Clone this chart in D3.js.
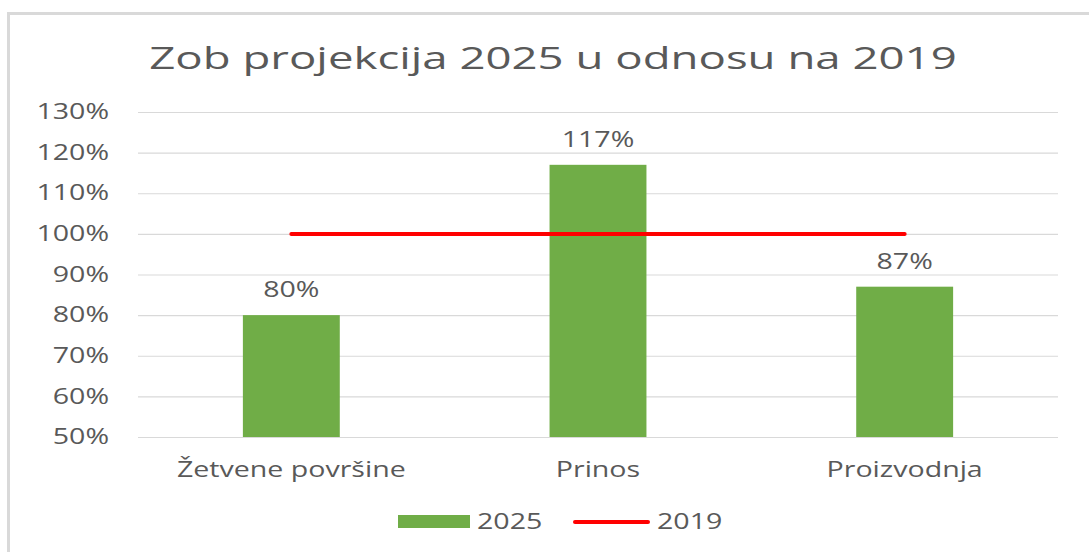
<!DOCTYPE html>
<html>
<head>
<meta charset="utf-8">
<script src="https://cdn.jsdelivr.net/npm/d3@7"></script>
<style>
  body { margin: 0; background: #fff; }
  text { font-family: "Open Sans", sans-serif; fill: #595959; }
</style>
</head>
<body>
<div id="chart"></div>
<script>
// podaci
const categories = ["Žetvene površine", "Prinos", "Proizvodnja"];
const values2025 = [0.80, 1.17, 0.87];
const values2019 = [1.00, 1.00, 1.00];
const yTicks = [0.5, 0.6, 0.7, 0.8, 0.9, 1.0, 1.1, 1.2, 1.3];
const title = "Zob projekcija 2025 u odnosu na 2019";

const width = 1089;
const height = 552;
const stretchK = 1.36; // slika je horizontalno razvučena

const green = "#70ad47";
const red = "#ff0000";

const svg = d3.select("#chart").append("svg")
  .attr("width", width).attr("height", height);

// okvir (samo gore i lijevo je vidljivo)
svg.append("path")
  .attr("d", `M8.5,${height} V13.5 H${width}`)
  .attr("fill", "none").attr("stroke", "#d9d9d9").attr("stroke-width", 3);

function stretch(sel, k = stretchK) {
  sel.each(function() {
    const w = this.getComputedTextLength();
    d3.select(this).attr("textLength", w * k).attr("lengthAdjust", "spacingAndGlyphs");
  });
}

const x = d3.scaleBand().domain(categories).range([138, 1058]);
const y = d3.scaleLinear().domain([0.5, 1.3]).range([437, 112]);
const barW = x.bandwidth() * 0.316;

// naslov
svg.append("text")
  .text(title)
  .attr("x", 553).attr("y", 69)
  .attr("text-anchor", "middle")
  .attr("font-size", 31)
  .call(stretch, 1.47);

// y-os s mrežom
const yAxis = svg.append("g")
  .attr("transform", "translate(138,0)")
  .call(d3.axisLeft(y).tickValues(yTicks).tickFormat(d3.format(".0%")).tickSize(-920).tickPadding(29));
yAxis.select(".domain").remove();
yAxis.selectAll("line").attr("stroke", "#d9d9d9").attr("stroke-width", 1.2);
yAxis.selectAll("text")
  .attr("font-size", 21).attr("font-family", "Open Sans, sans-serif")
  .attr("fill", "#595959")
  .call(stretch);

// stupci 2025
svg.selectAll(".bar")
  .data(values2025)
  .join("rect")
  .attr("class", "bar")
  .attr("x", (d, i) => x(categories[i]) + x.bandwidth() / 2 - barW / 2)
  .attr("width", barW)
  .attr("y", d => y(d))
  .attr("height", d => y(0.5) - y(d))
  .attr("fill", green);

// oznake podataka
svg.selectAll(".lbl")
  .data(values2025)
  .join("text")
  .attr("class", "lbl")
  .text(d => d3.format(".0%")(d))
  .attr("x", (d, i) => x(categories[i]) + x.bandwidth() / 2)
  .attr("y", d => y(d) - 18)
  .attr("text-anchor", "middle")
  .attr("font-size", 21)
  .call(stretch);

// linija 2019
const line = d3.line()
  .x((d, i) => x(categories[i]) + x.bandwidth() / 2)
  .y(d => y(d));
svg.append("path")
  .datum(values2019)
  .attr("d", line)
  .attr("fill", "none")
  .attr("stroke", red)
  .attr("stroke-width", 4)
  .attr("stroke-linecap", "round");

// kategorije
svg.selectAll(".cat")
  .data(categories)
  .join("text")
  .attr("class", "cat")
  .text(d => d)
  .attr("x", d => x(d) + x.bandwidth() / 2)
  .attr("y", 477)
  .attr("text-anchor", "middle")
  .attr("font-size", 21)
  .call(stretch);

// legenda
const legend = svg.append("g");
legend.append("rect")
  .attr("x", 398).attr("y", 515).attr("width", 72).attr("height", 13)
  .attr("fill", green);
legend.append("text").text("2025")
  .attr("x", 477).attr("y", 529).attr("font-size", 21).call(stretch);
legend.append("line")
  .attr("x1", 575).attr("x2", 648).attr("y1", 522).attr("y2", 522)
  .attr("stroke", red).attr("stroke-width", 4).attr("stroke-linecap", "round");
legend.append("text").text("2019")
  .attr("x", 657).attr("y", 529).attr("font-size", 21).call(stretch);
</script>
</body>
</html>
